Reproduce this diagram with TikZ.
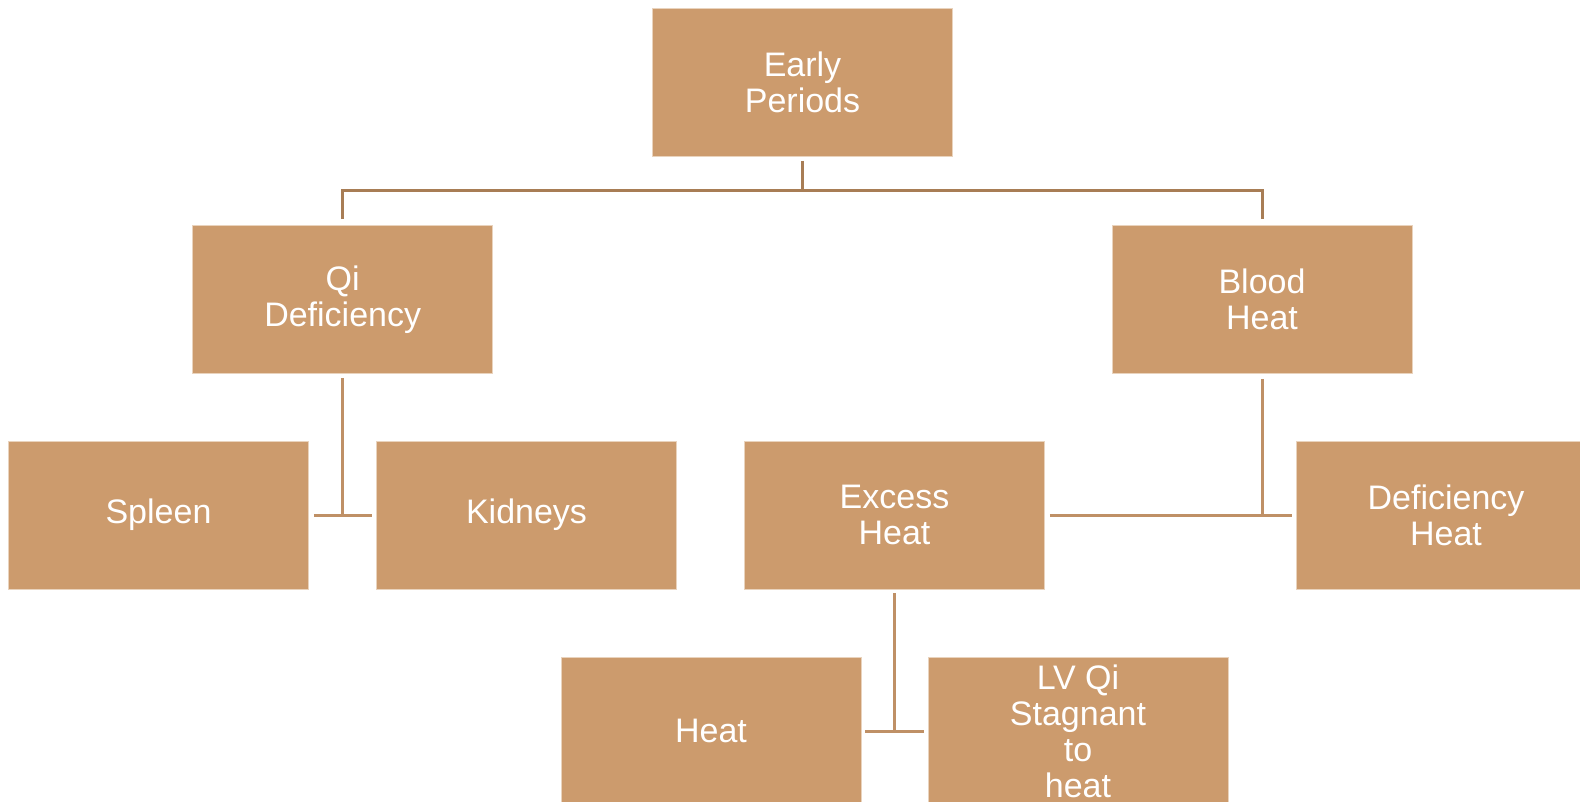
\documentclass[tikz,border=0pt]{standalone}
\usepackage{fontspec}
\setmainfont{Liberation Sans}
\usetikzlibrary{calc}
\definecolor{boxfill}{HTML}{CC9B6D}
\definecolor{boxrim}{HTML}{E9D3BD}
\definecolor{linktop}{HTML}{A87D55}
\definecolor{linklow}{HTML}{BF9066}
\begin{document}
\begin{tikzpicture}[x=1pt,y=-1pt,
  topic/.style={rectangle, fill=boxfill, draw=boxrim, line width=0.6pt,
    minimum width=300pt, minimum height=148pt, inner sep=0pt,
    align=center, text=white, font=\fontsize{34}{36}\selectfont},
  uplink/.style={draw=linktop, line width=3pt},
  lowlink/.style={draw=linklow, line width=3pt}]
\useasboundingbox (0,0) rectangle (1580,802);

% level 1
\node[topic] (ep) at (802.5,82.5) {Early\\Periods};
% level 2
\node[topic] (qi) at (342.7,299.5) {Qi\\Deficiency};
\node[topic] (bh) at (1262,299.5) {Blood\\Heat};
% level 3
\node[topic] (sp) at (158.5,515) {Spleen};
\node[topic] (kd) at (526.5,515) {Kidneys};
\node[topic] (ex) at (894.5,515) {Excess\\Heat};
\node[topic] (dh) at (1446,515) {Deficiency\\Heat};
% level 4
\node[topic] (ht) at (711,731) {Heat};
\node[topic] (lv) at (1078,731) {LV Qi\\Stagnant\\to\\heat};

% tree from the root
\coordinate (hub) at (802.5,191);
\draw[uplink] ([yshift=-4pt]ep.south) -- (hub);
\draw[uplink] ([yshift=6pt]qi.north) -- (qi |- hub) -- (bh |- hub) -- ([yshift=6pt]bh.north);

% Qi Deficiency branch
\draw[lowlink] ([yshift=-4pt]qi.south) -- (qi |- sp);
\draw[lowlink] ([xshift=5pt]sp.east) -- ([xshift=-4pt]kd.west);

% Blood Heat branch
\draw[lowlink] ([yshift=-5pt]bh.south) -- (bh |- ex);
\draw[lowlink] ([xshift=5pt]ex.east) -- ([xshift=-4pt]dh.west);

% Excess Heat branch
\draw[lowlink] ([yshift=-4pt]ex.south) -- (ex |- ht);
\draw[lowlink] ([xshift=4pt]ht.east) -- ([xshift=-4pt]lv.west);
\end{tikzpicture}
\end{document}
